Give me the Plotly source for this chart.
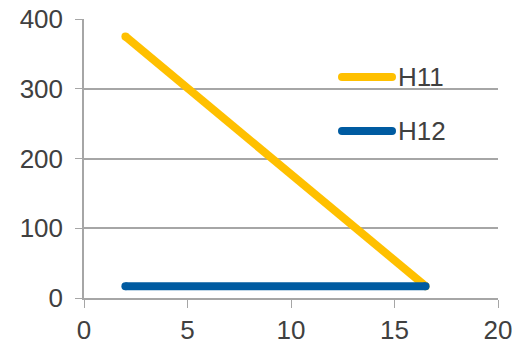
import plotly.graph_objects as go

# Series data
h11_x = [2, 16.5]
h11_y = [375, 17]
h12_x = [2, 16.5]
h12_y = [17, 17]

x_ticks = [0, 5, 10, 15, 20]
y_ticks = [0, 100, 200, 300, 400]
series_names = ["H11", "H12"]

YELLOW = "#FFC000"
BLUE = "#005BA1"
GRID = "#A6A6A6"
TEXT = "#404040"
LW = 8

# Plot area in pixels
W, H = 512, 344
L, R, T, B = 84, 14, 19, 46
PW, PH = W - L - R, H - T - B

fig = go.Figure()
for xs, ys, name, col in [(h11_x, h11_y, series_names[0], YELLOW),
                          (h12_x, h12_y, series_names[1], BLUE)]:
    fig.add_trace(go.Scatter(x=xs, y=ys, name=name, mode="lines+markers",
                             line=dict(color=col, width=LW),
                             marker=dict(color=col, size=LW, line=dict(width=0)),
                             showlegend=False))

# Legend drawn as rounded line samples with labels
def px_x(p):
    return (p - L) / PW

def px_y(p):
    return (H - B - p) / PH

shapes, annotations = [], []
for name, col, ypix in [(series_names[0], YELLOW, 77), (series_names[1], BLUE, 131)]:
    x0p, x1p = 342, 392
    shapes.append(dict(type="line", xref="paper", yref="paper",
                       x0=px_x(x0p), x1=px_x(x1p), y0=px_y(ypix), y1=px_y(ypix),
                       line=dict(color=col, width=LW)))
    for xp in (x0p, x1p):
        shapes.append(dict(type="circle", xref="paper", yref="paper",
                           xsizemode="pixel", ysizemode="pixel",
                           xanchor=px_x(xp), yanchor=px_y(ypix),
                           x0=-LW / 2, x1=LW / 2, y0=-LW / 2, y1=LW / 2,
                           fillcolor=col, line=dict(width=0)))
    annotations.append(dict(xref="paper", yref="paper", x=px_x(396), y=px_y(ypix),
                            xanchor="left", yanchor="middle", text=name,
                            showarrow=False, font=dict(size=26, color=TEXT)))

fig.update_layout(
    width=W, height=H,
    margin=dict(l=L, r=R, t=T, b=B),
    plot_bgcolor="white", paper_bgcolor="white",
    font=dict(family="Liberation Sans, Arial", size=26, color=TEXT),
    showlegend=False,
    shapes=shapes, annotations=annotations,
)
fig.update_xaxes(range=[0, 20], tickvals=x_ticks, showgrid=False, automargin=False,
                 showline=True, linecolor=GRID, linewidth=1.5,
                 ticks="outside", ticklen=8, tickcolor=GRID, zeroline=False,
                 ticklabeloverflow="allow")
fig.update_yaxes(range=[0, 400], tickvals=y_ticks, showgrid=True, automargin=False,
                 gridcolor=GRID, gridwidth=1.5,
                 showline=True, linecolor=GRID, linewidth=1.5,
                 ticks="outside", ticklen=7, tickcolor=GRID, zeroline=False,
                 ticklabelstandoff=7, ticklabeloverflow="allow")

fig.write_html("out.html")
